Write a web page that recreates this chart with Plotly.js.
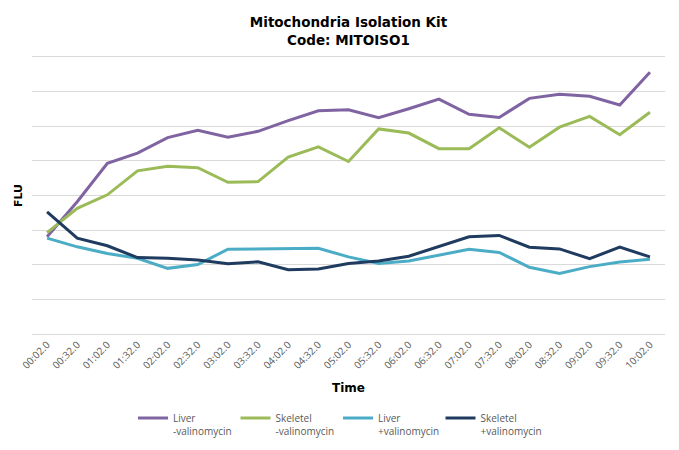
<!DOCTYPE html>
<html>
<head>
<meta charset="utf-8">
<script src="https://cdn.plot.ly/plotly-3.0.1.min.js"></script>
<style>html,body{margin:0;padding:0;background:#fff;}#chart{width:679px;height:450px;}</style>
</head>
<body>
<div id="chart"></div>
<script>
const times = ["00:02.0","00:32.0","01:02.0","01:32.0","02:02.0","02:32.0","03:02.0","03:32.0","04:02.0","04:32.0","05:02.0","05:32.0","06:02.0","06:32.0","07:02.0","07:32.0","08:02.0","08:32.0","09:02.0","09:32.0","10:02.0"];
const liverMinus = [2.81,3.82,4.93,5.22,5.67,5.88,5.68,5.85,6.16,6.44,6.47,6.24,6.50,6.78,6.34,6.25,6.80,6.92,6.86,6.61,7.55];
const skeletelMinus = [2.93,3.63,4.02,4.71,4.84,4.80,4.38,4.40,5.11,5.40,4.98,5.92,5.80,5.35,5.35,5.95,5.39,5.97,6.28,5.75,6.40];
const liverPlus = [2.77,2.52,2.33,2.19,1.90,2.01,2.45,2.46,2.48,2.48,2.23,2.04,2.11,2.28,2.45,2.36,1.93,1.75,1.95,2.08,2.16];
const skeletelPlus = [3.53,2.77,2.55,2.21,2.19,2.14,2.03,2.09,1.86,1.88,2.04,2.11,2.25,2.52,2.81,2.85,2.51,2.46,2.18,2.51,2.23];
const seriesNames = ["Liver<br>-valinomycin","Skeletel<br>-valinomycin","Liver<br>+valinomycin","Skeletel<br>+valinomycin"];
const seriesColors = ["#8064A2","#9BBB59","#4BACC6","#1F3B5F"];
const seriesValues = [liverMinus, skeletelMinus, liverPlus, skeletelPlus];

const traces = seriesValues.map((v, i) => ({
  x: times, y: v, type: "scatter", mode: "lines",
  name: seriesNames[i],
  line: {color: seriesColors[i], width: 3}
}));

const layout = {
  width: 679, height: 450,
  margin: {l: 32, r: 14, t: 55, b: 114},
  paper_bgcolor: "#fff", plot_bgcolor: "#fff",
  font: {family: "Open Sans, sans-serif", color: "#595959", size: 10},
  title: {
    text: "Mitochondria Isolation Kit<br>Code: MITOISO1",
    font: {family: "DejaVu Sans", size: 13.5, color: "#000", weight: "bold"},
    x: 0.5, xanchor: "center", xref: "paper",
    y: 1 - 27/450, yanchor: "top", yref: "container"
  },
  xaxis: {
    type: "category", range: [-0.5, 20.5],
    showgrid: false, zeroline: false, showline: false,
    ticks: "",
    tickangle: -45, tickfont: {family: "Open Sans", size: 10, color: "#595959"},
    title: {text: "Time", font: {family: "DejaVu Sans", size: 12, color: "#000", weight: "bold"}, standoff: 13},
    automargin: false, fixedrange: true
  },
  yaxis: {
    range: [-0.05, 8.05], dtick: 1, tick0: 0, showticklabels: false, ticks: "",
    showgrid: true, gridcolor: "#D9D9D9", gridwidth: 1,
    zeroline: false, showline: false,
    title: {text: "FLU", font: {family: "DejaVu Sans", size: 11, color: "#000", weight: "bold"}, standoff: 6},
    automargin: false, fixedrange: true
  },
  showlegend: true,
  legend: {
    orientation: "h", xref: "container", yref: "container",
    x: 133/679, xanchor: "left", y: 1 - 405/450, yanchor: "top",
    font: {family: "Open Sans", size: 10, color: "#595959"},
    valign: "top", entrywidth: 57.5, entrywidthmode: "pixels",
    traceorder: "normal", bgcolor: "rgba(0,0,0,0)"
  }
};

Plotly.newPlot("chart", traces, layout, {displayModeBar: false, staticPlot: true});
</script>
</body>
</html>
